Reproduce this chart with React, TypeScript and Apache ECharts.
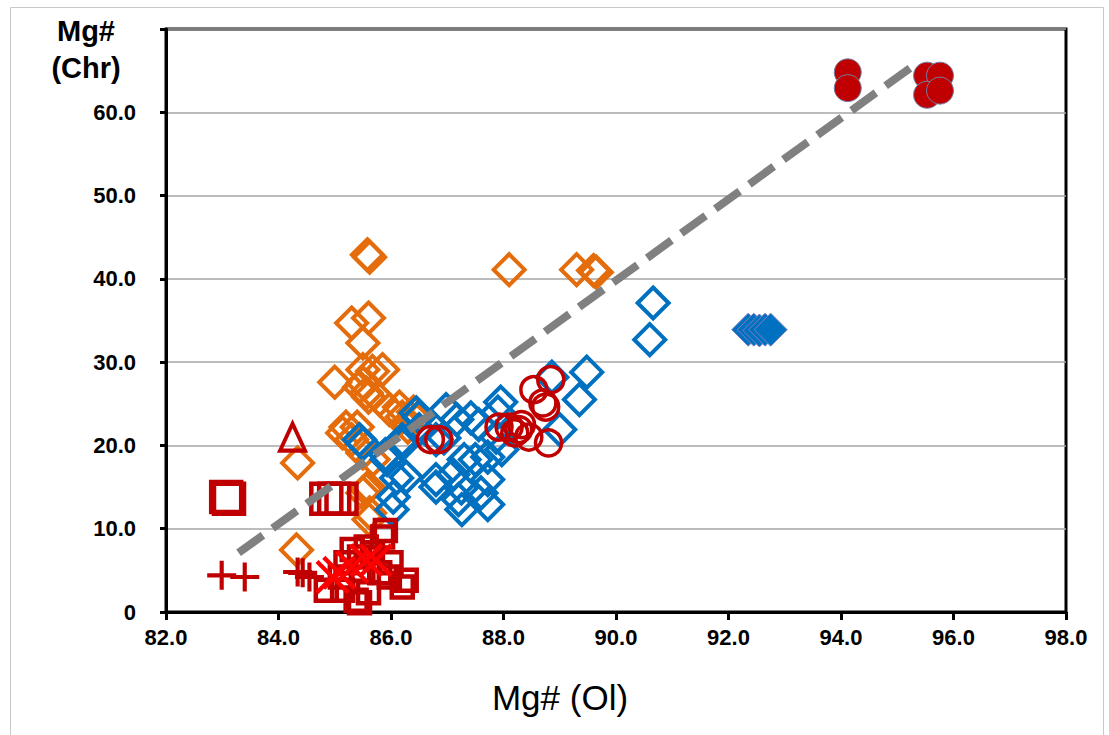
import React, { useEffect, useRef } from "react";
import * as echarts from "echarts";

// ---- data (x = Mg# Ol, y = Mg# Chr) ----
const xTicks = [82, 84, 86, 88, 90, 92, 94, 96, 98];
const yTicks = [0, 10, 20, 30, 40, 50, 60, 70];

const orangeDiamonds = [
  [85.58, 42.9], [85.62, 42.6], [88.1, 41.1], [89.3, 41.1], [89.6, 41.0], [89.65, 40.8],
  [85.3, 34.7], [85.6, 35.3], [85.5, 32.3],
  [85.0, 27.6], [85.67, 28.9], [85.85, 29.1], [85.5, 29.1], [85.5, 27.5], [85.56, 26.3],
  [85.8, 25.5], [86.15, 24.6], [85.44, 27.0], [85.6, 25.8], [85.97, 24.3], [86.2, 23.4],
  [86.3, 22.2], [86.45, 23.1], [86.4, 24.0],
  [85.14, 21.5], [85.2, 22.2], [85.4, 22.2], [85.3, 20.7], [85.5, 19.1], [85.68, 18.3],
  [85.6, 15.0], [85.56, 14.7], [85.5, 14.3], [85.61, 11.1], [85.62, 11.9],
  [84.34, 17.9], [84.32, 7.45],
];

const blueDiamonds = [
  [90.66, 37.1], [90.6, 32.7], [89.48, 28.8], [89.35, 25.5], [88.86, 28.2], [89.0, 21.9],
  [87.95, 25.2], [87.9, 24.0], [87.97, 19.5], [87.72, 18.6], [87.72, 15.9], [87.72, 12.9],
  [87.3, 18.3], [87.25, 14.9], [87.26, 12.3], [86.8, 15.0], [87.1, 16.5], [86.02, 12.3],
  [86.1, 16.1], [86.2, 20.1], [85.9, 18.9], [85.44, 20.7], [85.5, 20.2], [86.5, 21.9],
  [86.45, 23.9], [86.98, 24.3], [87.17, 23.1], [87.42, 23.3], [87.56, 22.5], [86.94, 20.9],
  [86.8, 20.7], [87.87, 21.0], [87.5, 18.3], [87.6, 14.3], [86.27, 16.2], [87.2, 13.5],
  [86.2, 20.7], [86.5, 23.4], [85.93, 18.3], [86.04, 13.8], [86.8, 15.9],
];

const blueFilledDiamonds = [
  [92.35, 33.9], [92.45, 33.9], [92.55, 33.8], [92.65, 33.9], [92.75, 33.9],
];

const redOpenCircles = [
  [88.54, 26.7], [88.84, 27.9], [88.75, 24.6], [88.7, 25.1], [88.1, 22.2], [88.27, 21.9],
  [88.45, 21.0], [88.8, 20.3], [86.85, 20.7], [86.7, 20.7], [87.92, 22.2], [88.32, 22.5],
  [88.2, 21.5],
];

const redFilledCircles = [
  [94.12, 64.8], [94.12, 62.9], [95.53, 64.4], [95.76, 64.4], [95.53, 62.1], [95.76, 62.6],
];

const redSquares = [
  [85.85, 9.0], [85.9, 9.8], [85.56, 7.8], [85.31, 7.5], [85.44, 6.6], [85.2, 5.9],
  [84.85, 2.6], [85.14, 2.6], [85.38, 1.4], [85.6, 2.3], [86.2, 3.0], [86.27, 3.8],
  [85.97, 4.2], [86.0, 5.9], [85.8, 4.7], [85.5, 5.0], [85.1, 4.2], [85.67, 7.1],
  [85.44, 1.1],
];

const redLargeSquares = [
  [83.07, 13.8], [83.12, 13.6], [84.85, 13.6], [84.99, 13.6], [85.12, 13.6],
];

const redPlus = [
  [82.99, 4.4], [83.4, 4.2], [84.34, 4.8], [84.55, 4.2], [84.43, 4.7],
];

const redCross = [
  [85.08, 4.7], [85.31, 5.4], [85.56, 6.2], [85.73, 6.2], [84.96, 4.2],
];

const redTriangles = [[84.25, 21.0]];

const trendLine = [[83.29, 7.1], [95.31, 65.7]];

// ---- styles ----
const RED = "#C00000";
const BLUE = "#0070C0";
const ORANGE = "#E46C0A";
const FONT = "'Liberation Sans', Arial, sans-serif";

const PLUS_PATH =
  "path://M12,0h4v12h12v4h-12v12h-4v-12h-12v-4h12z";
const CROSS_PATH =
  "path://M2.5,0L14,11.5L25.5,0L28,2.5L16.5,14L28,25.5L25.5,28L14,16.5L2.5,28L0,25.5L11.5,14L0,2.5z";

function openSeries(name: string, data: number[][], symbol: string, size: number | number[], color: string, bw: number) {
  return {
    name,
    type: "scatter",
    data,
    symbol,
    symbolSize: size,
    itemStyle: { color: "transparent", borderColor: color, borderWidth: bw, opacity: 1 },
    emphasis: { disabled: true },
  };
}

export default function App() {
  const ref = useRef<HTMLDivElement>(null);
  useEffect(() => {
    if (!ref.current) return;
    const chart = echarts.init(ref.current, undefined, { renderer: "svg" });
    chart.setOption({
      animation: false,
      backgroundColor: "#ffffff",
      grid: {
        left: 166,
        right: 43,
        top: 29,
        bottom: 123,
        show: true,
        borderColor: "#000",
        borderWidth: 3,
        backgroundColor: "transparent",
      },
      xAxis: {
        type: "value",
        min: 82,
        max: 98,
        interval: 2,
        axisLine: { show: true, onZero: false, lineStyle: { color: "#000", width: 3 } },
        axisTick: { show: true, length: 8, lineStyle: { color: "#000", width: 3 } },
        axisLabel: {
          margin: 14,
          fontFamily: FONT,
          fontSize: 22,
          fontWeight: "bold",
          color: "#000",
          formatter: (v: number) => v.toFixed(1),
        },
        splitLine: { show: false },
      },
      yAxis: {
        type: "value",
        min: 0,
        max: 70,
        interval: 10,
        axisLine: { show: true, onZero: false, lineStyle: { color: "#000", width: 3 } },
        axisTick: { show: true, length: 6, lineStyle: { color: "#000", width: 3 } },
        axisLabel: {
          margin: 30,
          fontFamily: FONT,
          fontSize: 22,
          fontWeight: "bold",
          color: "#000",
          formatter: (v: number) => (v === 0 ? "0" : v === 70 ? "" : v.toFixed(1)),
        },
        splitLine: { show: true, lineStyle: { color: "#A6A6A6", width: 1.5 } },
      },
      graphic: [
        {
          type: "rect",
          left: 8,
          top: 5,
          shape: { width: 1093, height: 745 },
          style: { fill: "none", stroke: "#C8C8C8", lineWidth: 1 },
          silent: true,
        },
        {
          type: "text",
          x: 86,
          y: 12,
          style: {
            text: "Mg#\n(Chr)",
            fontFamily: FONT,
            fontSize: 29,
            fontWeight: "bold",
            lineHeight: 37,
            fill: "#000",
            align: "center",
            verticalAlign: "top",
          },
          silent: true,
        },
        {
          type: "text",
          x: 560,
          y: 697,
          style: {
            text: "Mg# (Ol)",
            fontFamily: FONT,
            fontSize: 35,
            fill: "#000",
            align: "center",
            verticalAlign: "middle",
          },
          silent: true,
        },
      ],
      series: [
        openSeries("Orange", orangeDiamonds, "diamond", 31, ORANGE, 4),
        openSeries("Blue", blueDiamonds, "diamond", 31, BLUE, 4),
        {
          name: "Blue filled",
          type: "scatter",
          data: blueFilledDiamonds,
          symbol: "diamond",
          symbolSize: 33,
          itemStyle: { color: BLUE, borderColor: "#7F7FBF", borderWidth: 1, opacity: 1 },
          emphasis: { disabled: true },
        },
        openSeries("Red circles", redOpenCircles, "circle", 26, RED, 3.5),
        openSeries("Red squares", redSquares, "rect", 21, RED, 4.5),
        openSeries("Red large squares", redLargeSquares, "rect", 30, RED, 4.5),
        {
          name: "Red plus",
          type: "scatter",
          data: redPlus,
          symbol: PLUS_PATH,
          symbolSize: 29,
          itemStyle: { color: RED, opacity: 1 },
          emphasis: { disabled: true },
        },
        {
          name: "Red cross",
          type: "scatter",
          data: redCross,
          symbol: CROSS_PATH,
          symbolSize: 34,
          itemStyle: { color: "#FF0000", opacity: 1 },
          emphasis: { disabled: true },
        },
        openSeries("Red triangle", redTriangles, "triangle", [25, 27], RED, 4),
        {
          name: "Red filled circles",
          type: "scatter",
          data: redFilledCircles,
          symbol: "circle",
          symbolSize: 27,
          itemStyle: { color: RED, borderColor: "#6F7FA8", borderWidth: 1, opacity: 1 },
          emphasis: { disabled: true },
        },
        {
          name: "Trend",
          type: "line",
          data: trendLine,
          symbol: "none",
          lineStyle: { color: "#808080", width: 8, type: [30, 12] },
          z: 5,
          emphasis: { disabled: true },
        },
      ],
    });
    return () => chart.dispose();
  }, []);
  return (
    <div
      ref={ref}
      style={{ position: "fixed", left: 0, top: 0, width: 1109, height: 735 }}
    />
  );
}
